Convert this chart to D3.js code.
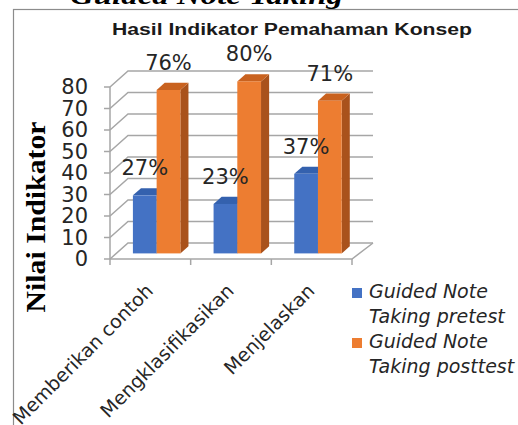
<!DOCTYPE html>
<html>
<head>
<meta charset="utf-8">
<script src="https://cdn.jsdelivr.net/npm/d3@7"></script>
<style>
  html, body { margin: 0; padding: 0; background: #fff; }
  #chart { width: 518px; height: 425px; position: relative; overflow: hidden; }
</style>
</head>
<body>
<div id="chart"></div>
<script>
const categories = ['Memberikan contoh', 'Mengklasifikasikan', 'Menjelaskan'];
const seriesNames = ['Guided Note Taking pretest', 'Guided Note Taking posttest'];
const pretest = [27, 23, 37];
const posttest = [76, 80, 71];
const yTicks = [0, 10, 20, 30, 40, 50, 60, 70, 80];
const colors = ['#4472C4', '#ED7D31'];
const topColors = ['#3461AE', '#C9621F'];
const sideColors = ['#2F5597', '#A9521C'];

(function () {

    const width = 518;
    const height = 425;

    const svg = d3.select('#chart')
        .append('svg')
        .attr('width', width)
        .attr('height', height);

    // depth of the 3d box: back wall is shifted by this much
    const depthX = 18;
    const depthY = -16;
    const off = z => [depthX * z, depthY * z];
    const zFront = 0.35, zBack = 0.8;

    const x0 = d3.scaleBand().domain(categories).range([110, 352]).padding(0);
    const x1 = d3.scaleBand().domain(seriesNames).range([0, x0.bandwidth()])
        .paddingInner(0).paddingOuter(0.7);
    const y = d3.scaleLinear().domain([0, 80]).range([259, 87]);

    // outer frame + cut-off heading above it
    svg.append('rect')
        .attr('x', 13.5).attr('y', 9.5)
        .attr('width', 600).attr('height', 500)
        .attr('fill', 'none').attr('stroke', '#8c8c8c').attr('stroke-width', 1.2);

    svg.append('text')
        .attr('x', 70).attr('y', 4)
        .attr('font-family', 'Liberation Serif')
        .attr('font-weight', 'bold').attr('font-style', 'italic')
        .attr('font-size', 26)
        .attr('textLength', 273).attr('lengthAdjust', 'spacingAndGlyphs')
        .text('Guided Note Taking');

    svg.append('text')
        .attr('x', 112).attr('y', 35)
        .attr('font-family', 'Liberation Sans')
        .attr('font-weight', 'bold')
        .attr('font-size', 16)
        .attr('fill', '#1a1a1a')
        .attr('textLength', 360).attr('lengthAdjust', 'spacingAndGlyphs')
        .text('Hasil Indikator Pemahaman  Konsep');

    // walls / gridlines
    const grid = svg.append('g')
        .attr('stroke', '#a6a6a6').attr('stroke-width', 1.5).attr('fill', 'none');

    const [bx, by] = off(1);
    const xL = x0.range()[0], xR = x0.range()[1];

    grid.selectAll('path.gl')
        .data(yTicks)
        .join('path')
        .attr('class', 'gl')
        .attr('d', t => `M${xL},${y(t)}L${xL + bx},${y(t) + by}L${xR + bx + 3},${y(t) + by}`);

    grid.append('path')
        .attr('d', `M${xL},${y(0)}L${xR},${y(0)}L${xR + bx + 3},${y(0) + by}`);

    grid.append('path')
        .attr('d', `M${xL},${y(80)}L${xL},${y(0)}`);

    grid.selectAll('path.tk')
        .data(yTicks)
        .join('path')
        .attr('class', 'tk')
        .attr('d', t => `M${xL - 6},${y(t)}L${xL},${y(t)}`);

    const edges = categories.map(c => x0(c)).concat([xR]);
    grid.selectAll('path.xt')
        .data(edges)
        .join('path')
        .attr('class', 'xt')
        .attr('d', e => `M${e},${y(0)}L${e},${y(0) + 6}`);

    // y tick labels
    svg.append('g')
        .selectAll('text')
        .data(yTicks)
        .join('text')
        .attr('x', 88)
        .attr('y', t => y(t) + 7)
        .attr('text-anchor', 'end')
        .attr('font-family', 'DejaVu Sans')
        .attr('font-size', 21)
        .attr('fill', '#262626')
        .text(t => t);

    svg.append('text')
        .attr('transform', 'translate(45,217) rotate(-90)')
        .attr('text-anchor', 'middle')
        .attr('font-family', 'Liberation Serif')
        .attr('font-weight', 'bold')
        .attr('font-size', 27)
        .attr('textLength', 191).attr('lengthAdjust', 'spacingAndGlyphs')
        .text('Nilai Indikator');

    // bars
    const values = [pretest, posttest];
    const [fx, fy] = off(zFront);
    const [kx, ky] = off(zBack);
    const w = x1.bandwidth();

    const bars = [];
    categories.forEach((c, i) => {
        seriesNames.forEach((s, j) => {
            bars.push({ cat: c, s: j, v: values[j][i], x: x0(c) + x1(s) });
        });
    });

    const barG = svg.append('g');
    bars.forEach(d => {
        const yt = y(d.v), yb = y(0);
        barG.append('path')
            .attr('fill', sideColors[d.s])
            .attr('d', `M${d.x + w + fx},${yt + fy}L${d.x + w + kx},${yt + ky}L${d.x + w + kx},${yb + ky}L${d.x + w + fx},${yb + fy}Z`);
        barG.append('path')
            .attr('fill', topColors[d.s])
            .attr('d', `M${d.x + fx},${yt + fy}L${d.x + w + fx},${yt + fy}L${d.x + w + kx},${yt + ky}L${d.x + kx},${yt + ky}Z`);
        barG.append('rect')
            .attr('x', d.x + fx).attr('y', yt + fy)
            .attr('width', w).attr('height', yb - yt)
            .attr('fill', colors[d.s]);
    });

    svg.append('g')
        .selectAll('text')
        .data(bars)
        .join('text')
        .attr('x', d => d.x + fx + w / 2)
        .attr('y', d => y(d.v) + fy - 20)
        .attr('text-anchor', 'middle')
        .attr('font-family', 'DejaVu Sans')
        .attr('font-size', 21)
        .attr('fill', '#262626')
        .text(d => d.v + '%');

    // category labels
    svg.append('g')
        .selectAll('text')
        .data(categories)
        .join('text')
        .attr('transform', c => `translate(${x0(c) + x0.bandwidth() / 2 + 4},${y(0) + 33}) rotate(-45)`)
        .attr('text-anchor', 'end')
        .attr('font-family', 'DejaVu Sans')
        .attr('font-size', 19)
        .attr('fill', '#262626')
        .text(c => c);

    // legend
    const legend = svg.append('g');
    const legendLines = [['Guided Note', 'Taking pretest'], ['Guided Note', 'Taking posttest']];
    legendLines.forEach((lines, j) => {
        const top = 288 + j * 50;
        legend.append('rect')
            .attr('x', 352).attr('y', top)
            .attr('width', 10).attr('height', 10)
            .attr('fill', colors[j]);
        legend.selectAll(null)
            .data(lines)
            .join('text')
            .attr('x', 369)
            .attr('y', (l, k) => top + 10 + k * 25)
            .attr('font-family', 'DejaVu Sans')
            .attr('font-style', 'italic')
            .attr('font-size', 19)
            .attr('fill', '#262626')
            .text(l => l);
    });

})();
</script>
</body>
</html>
